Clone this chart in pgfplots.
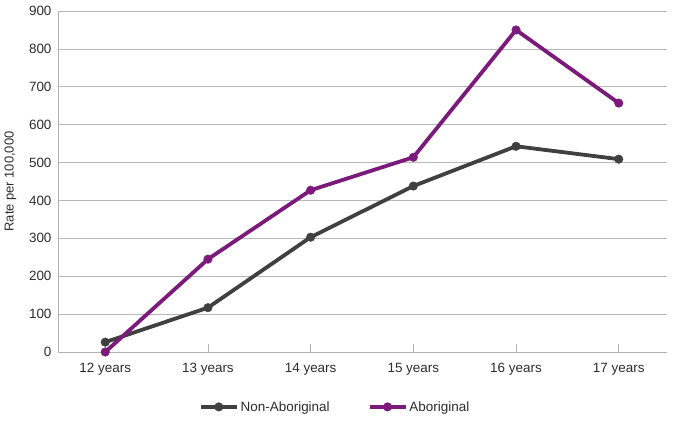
\documentclass[border=0pt]{standalone}
\usepackage{fontspec}
\setmainfont{Liberation Sans}
\usepackage{pgfplots}
\pgfplotsset{compat=1.18}
\definecolor{nonab}{RGB}{64,64,64}
\definecolor{abor}{RGB}{123,26,123}
\definecolor{txt}{RGB}{45,45,45}
\begin{document}
\begin{tikzpicture}
\begin{axis}[
  scale only axis,
  width=609bp, height=341bp,
  xmin=-0.46, xmax=5.47, ymin=0, ymax=900,
  xtick={0,...,5},
  xticklabels={12 years,13 years,14 years,15 years,16 years,17 years},
  ytick={0,100,...,900},
  ymajorgrids, major grid style={draw=black!28, line width=0.7pt},
  axis x line*=bottom, axis y line*=left,
  axis line style={draw=black!30, line width=0.8pt, -},
  tick align=inside,
  xtick style={draw=black!30, line width=0.8pt},
  ytick style={draw=none},
  major tick length=8bp,
  tick label style={font=\fontsize{13.5}{15}\selectfont, text=txt},
  /pgf/number format/assume math mode=true,
  yticklabel style={xshift=-3bp},
  xticklabel style={yshift=-8bp},
  ylabel={Rate per 100,000},
  ylabel style={font=\fontsize{13}{15}\selectfont, text=txt, yshift=6bp},
  legend style={at={(0.455,-0.161)}, anchor=center, draw=none,
    legend columns=2, font=\fontsize{13.5}{15}\selectfont, text=txt,
    /tikz/every even column/.append style={column sep=36bp}},
  legend image code/.code={
    \draw[#1, mark repeat=2, mark phase=2] plot coordinates {(0bp,0bp) (18bp,0bp) (36bp,0bp)};},
  every axis plot/.append style={line width=3.8bp, mark=*, mark size=4.3bp},
]
\addplot[nonab, mark options={fill=nonab, draw=nonab, line width=0.4bp}] coordinates {
  (0,26) (1,117) (2,303) (3,438) (4,543) (5,509)};
\addlegendentry{Non-Aboriginal}
\addplot[abor, mark options={fill=abor, draw=abor, line width=0.4bp}] coordinates {
  (0,0) (1,245) (2,427) (3,514) (4,850) (5,657)};
\addlegendentry{Aboriginal}
\end{axis}
\pgfresetboundingbox
\path (current axis.south west) ++(-58bp,-80bp) rectangle ++(675bp,432bp);
\end{tikzpicture}
\end{document}
